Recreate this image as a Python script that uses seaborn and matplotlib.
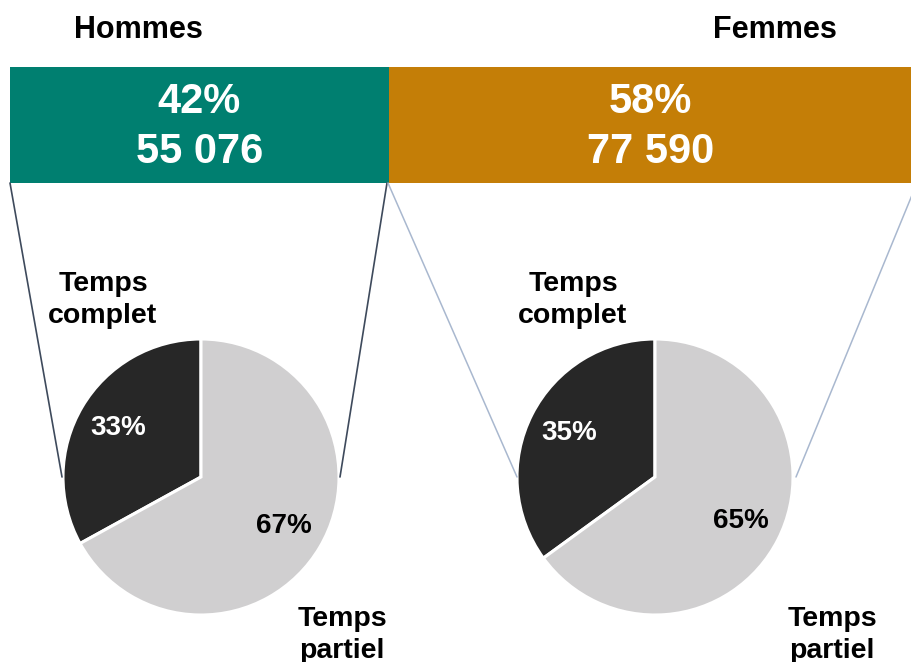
import numpy as np
import matplotlib
matplotlib.use("Agg")
import matplotlib.pyplot as plt
import seaborn as sns

# ---- donnees ----
genres = ["Hommes", "Femmes"]
part_genre = [42, 58]
effectifs = [55076, 77590]
temps_complet = [33, 35]
temps_partiel = [67, 65]
libelles = ["Temps\ncomplet", "Temps\npartiel"]

# ---- style ----
sns.set_theme(style="white")
plt.rcParams["font.family"] = ["Liberation Sans", "DejaVu Sans"]
plt.rcParams["text.color"] = "black"

couleurs_genre = ["#007F70", "#C47E07"]
couleurs_pie = ["#272727", "#D0CFD0"]
W, H = 912, 662

fig = plt.figure(figsize=(W / 100, H / 100), dpi=100)
ax = fig.add_axes([0, 0, 1, 1])

# bandeau proportionnel a la part de chaque genre
echelle = 902 / 100
gauche = 10
for i, part in enumerate(part_genre):
    largeur = part * echelle
    ax.barh(125, largeur, left=gauche, height=116, color=couleurs_genre[i],
            edgecolor="none")
    centre = gauche + largeur / 2
    if i == 1:
        centre = gauche + (W - gauche) / 2
    txt = f"{part}%\n{effectifs[i]:,}".replace(",", " ")
    ax.text(centre, 127, txt, ha="center", va="center", color="white",
            fontsize=30, fontweight="bold", linespacing=1.3)
    gauche += largeur

# titres
ax.text(138, 30, genres[0], ha="center", va="center", fontsize=22, fontweight="bold", color="black")
ax.text(775, 30, genres[1], ha="center", va="center", fontsize=22, fontweight="bold", color="black")

# camemberts
centres = [(201, 477), (655, 477)]
rayon = 138
for i, (cx, cy) in enumerate(centres):
    wedges, texts, autotexts = ax.pie(
        [temps_complet[i], temps_partiel[i]],
        colors=couleurs_pie, startangle=-90, counterclock=False,
        center=(cx, cy), radius=rayon, frame=True,
        autopct="%1.0f%%", pctdistance=0.7,
        wedgeprops=dict(edgecolor="white", linewidth=2.2),
        textprops=dict(fontsize=20, fontweight="bold"))
    autotexts[0].set_color("white")
    autotexts[1].set_color("black")

# libelles des parts
style_lib = dict(ha="center", va="center", fontsize=20.5, fontweight="bold",
                 linespacing=1.28, color="black")
ax.text(103, 300, libelles[0], **style_lib)
ax.text(342, 635, libelles[1], **style_lib)
ax.text(573, 300, libelles[0], **style_lib)
ax.text(832, 635, libelles[1], **style_lib)

# lignes de liaison
ax.plot([10, 62], [183, 477], color="#3E4A5C", lw=1.2)
ax.plot([387, 340], [183, 477], color="#3E4A5C", lw=1.2)
ax.plot([388, 517], [183, 477], color="#A9B8CF", lw=1.1)
ax.plot([917, 796], [183, 477], color="#A9B8CF", lw=1.1)

ax.set_xlim(0, W)
ax.set_ylim(H, 0)
ax.set_aspect("auto")
ax.axis("off")

fig.savefig("out.png", dpi=100, facecolor="white")
